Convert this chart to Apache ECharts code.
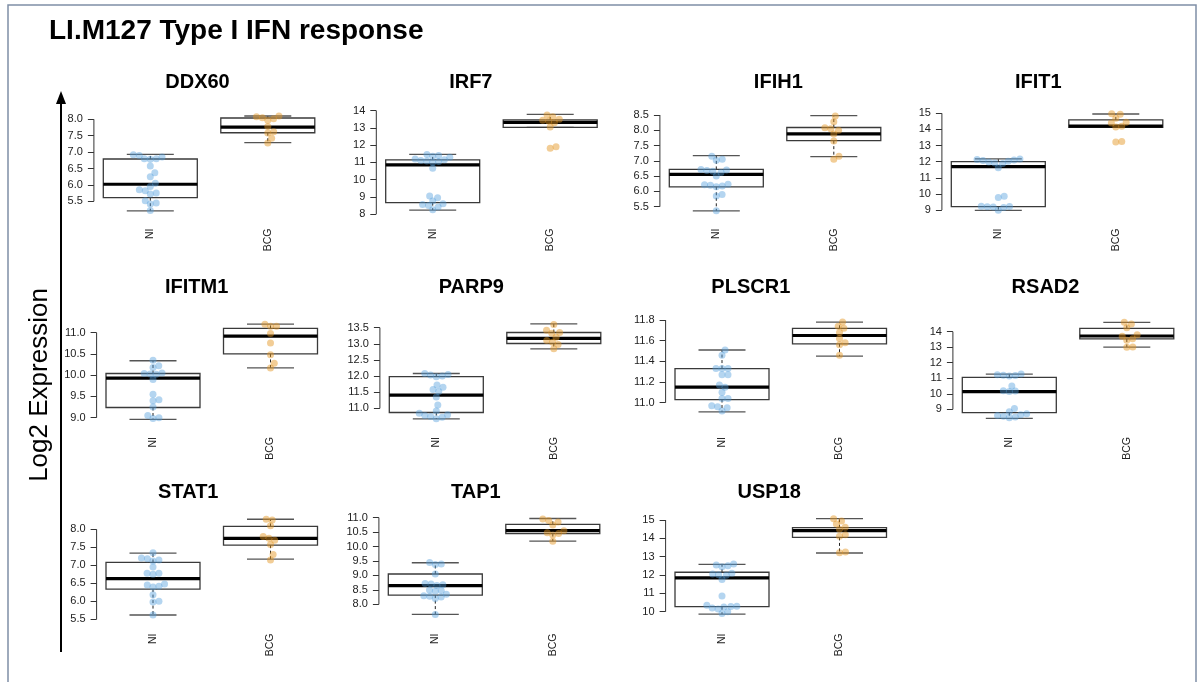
<!DOCTYPE html>
<html lang="en">
<head>
<meta charset="UTF-8">
<title>LI.M127 Type I IFN response</title>
<style>
  html, body { margin: 0; padding: 0; background: #fff; }
  #main { width: 1201px; height: 682px; }
</style>
</head>
<body>
<div id="main"></div>
<script src="https://cdn.jsdelivr.net/npm/echarts@6/dist/echarts.min.js"></script>
<script>
var genes = ['DDX60', 'IRF7', 'IFIH1', 'IFIT1', 'IFITM1', 'PARP9', 'PLSCR1', 'RSAD2', 'STAT1', 'TAP1', 'USP18'];
var groups = ['NI', 'BCG'];

// box stats [min, Q1, median, Q3, max]
var boxNI = [
  [5.21, 5.61, 6.02, 6.79, 6.93],
  [8.23, 8.66, 10.85, 11.14, 11.46],
  [5.36, 6.15, 6.56, 6.72, 7.17],
  [8.98, 9.21, 11.69, 12.00, 12.17],
  [8.96, 9.24, 9.93, 10.04, 10.34],
  [10.67, 10.87, 11.41, 11.98, 12.08],
  [10.91, 11.03, 11.15, 11.33, 11.51],
  [8.42, 8.79, 10.14, 11.06, 11.27],
  [5.62, 6.34, 6.63, 7.08, 7.34],
  [7.65, 8.32, 8.65, 9.05, 9.44],
  [9.87, 10.27, 11.84, 12.15, 12.58]
];
var boxBCG = [
  [7.29, 7.59, 7.76, 8.04, 8.10],
  [13.03, 13.03, 13.32, 13.46, 13.79],
  [7.14, 7.66, 7.88, 8.09, 8.48],
  [14.13, 14.13, 14.21, 14.59, 14.96],
  [10.17, 10.50, 10.92, 11.10, 11.20],
  [12.84, 13.01, 13.17, 13.35, 13.62],
  [11.45, 11.57, 11.65, 11.72, 11.78],
  [13.01, 13.53, 13.72, 14.21, 14.60],
  [7.17, 7.56, 7.75, 8.08, 8.28],
  [10.19, 10.45, 10.55, 10.77, 10.97],
  [13.20, 14.05, 14.42, 14.58, 15.07]
];

// individual samples
var ptsNI = [
  [6.92, 6.90, 6.85, 6.80, 6.80, 6.78, 6.58, 6.37, 6.25, 6.05, 5.95, 5.85, 5.82, 5.75, 5.72, 5.52, 5.45, 5.42, 5.22],
  [11.45, 11.40, 11.35, 11.30, 11.20, 11.15, 11.10, 11.08, 11.05, 11.00, 10.65, 9.05, 8.95, 8.75, 8.60, 8.55, 8.50, 8.40, 8.25],
  [7.15, 7.05, 7.02, 6.72, 6.70, 6.68, 6.66, 6.62, 6.50, 6.23, 6.22, 6.20, 6.18, 6.15, 5.90, 5.85, 5.37],
  [12.17, 12.13, 12.10, 12.07, 12.02, 11.98, 11.92, 11.88, 11.62, 9.85, 9.78, 9.24, 9.22, 9.20, 9.18, 9.15, 8.98],
  [10.35, 10.22, 10.18, 10.05, 10.04, 10.03, 10.02, 9.90, 9.55, 9.42, 9.40, 9.25, 9.05, 9.00, 8.98],
  [12.08, 12.05, 12.03, 12.00, 11.98, 11.72, 11.65, 11.58, 11.52, 11.35, 11.10, 10.92, 10.85, 10.80, 10.78, 10.75, 10.72, 10.68],
  [11.51, 11.46, 11.33, 11.33, 11.33, 11.27, 11.27, 11.17, 11.15, 11.10, 11.04, 11.04, 10.97, 10.96, 10.95, 10.92],
  [11.27, 11.22, 11.20, 11.18, 11.15, 10.50, 10.20, 10.18, 10.15, 9.05, 8.85, 8.72, 8.65, 8.60, 8.55, 8.50, 8.45],
  [7.35, 7.20, 7.18, 7.15, 7.12, 6.95, 6.78, 6.78, 6.75, 6.48, 6.45, 6.42, 6.40, 6.18, 6.00, 5.98, 5.62],
  [9.45, 9.40, 9.38, 9.05, 8.72, 8.70, 8.68, 8.65, 8.50, 8.48, 8.45, 8.35, 8.30, 8.28, 8.25, 8.20, 7.65],
  [12.60, 12.55, 12.50, 12.45, 12.10, 12.05, 12.02, 11.98, 11.75, 10.85, 10.35, 10.30, 10.28, 10.25, 10.20, 10.15, 10.00, 9.90]
];
var ptsBCG = [
  [8.10, 8.08, 8.05, 8.02, 7.97, 7.78, 7.62, 7.58, 7.42, 7.28],
  [13.75, 13.65, 13.50, 13.45, 13.40, 13.30, 13.05, 11.90, 11.82],
  [8.47, 8.28, 8.08, 8.05, 8.00, 7.88, 7.65, 7.15, 7.05],
  [14.97, 14.95, 14.70, 14.45, 14.40, 14.20, 14.15, 13.25, 13.22],
  [11.20, 11.15, 11.15, 10.98, 10.76, 10.48, 10.28, 10.17],
  [13.60, 13.42, 13.35, 13.33, 13.20, 13.10, 13.05, 12.98, 12.85],
  [11.78, 11.74, 11.72, 11.68, 11.62, 11.58, 11.56, 11.46],
  [14.60, 14.50, 14.25, 13.80, 13.70, 13.55, 13.45, 13.02, 13.00],
  [8.28, 8.26, 8.10, 7.80, 7.75, 7.70, 7.58, 7.30, 7.15],
  [10.95, 10.90, 10.85, 10.75, 10.55, 10.48, 10.45, 10.40, 10.18],
  [15.07, 14.95, 14.78, 14.60, 14.50, 14.20, 14.12, 13.25, 13.22]
];

// y tick labels and axis ranges
var yTicks = [
  ['5.5', '6.0', '6.5', '7.0', '7.5', '8.0'],
  ['8', '9', '10', '11', '12', '13', '14'],
  ['5.5', '6.0', '6.5', '7.0', '7.5', '8.0', '8.5'],
  ['9', '10', '11', '12', '13', '14', '15'],
  ['9.0', '9.5', '10.0', '10.5', '11.0'],
  ['11.0', '11.5', '12.0', '12.5', '13.0', '13.5'],
  ['11.0', '11.2', '11.4', '11.6', '11.8'],
  ['9', '10', '11', '12', '13', '14'],
  ['5.5', '6.0', '6.5', '7.0', '7.5', '8.0'],
  ['8.0', '8.5', '9.0', '9.5', '10.0', '10.5', '11.0'],
  ['10', '11', '12', '13', '14', '15']
];
var yMin = [5.098, 7.971, 5.244, 8.721, 8.875, 10.545, 10.803, 8.12, 5.495, 7.475, 9.573];
var yMax = [8.268, 14.01, 8.647, 15.176, 11.322, 13.769, 11.81, 14.816, 8.398, 11.092, 15.273];

// layout
var panelCenter = [150.3, 432.7, 716.3, 998.3, 153, 436.3, 722, 1009.3, 153, 435.3, 722];
var titleX = [197.5, 470.8, 778.3, 1038.3, 196.7, 471.3, 750.8, 1045.5, 188.3, 475.8, 769.2];
var rowTop = [110.5, 319, 515];
var rowBottom = [214.5, 423, 619.5];
var titleY = [82, 287, 492];
var U = 117.5;
var xMin = -0.48, xMax = 1.48;
var FONT = '"Liberation Sans", Arial, Helvetica, sans-serif';
var colNI = 'rgba(85, 160, 220, 0.55)';
var colBCG = 'rgba(228, 150, 35, 0.6)';

// simple deterministic beeswarm: returns x offsets in px
function swarm(vals, pxPerUnit, d) {
  var order = vals.map(function (v, k) { return k; }).sort(function (a, b) { return vals[a] - vals[b]; });
  var placed = [];
  var out = new Array(vals.length);
  order.forEach(function (k) {
    var y = vals[k] * pxPerUnit;
    var iv = [];
    placed.forEach(function (p) {
      var dy = Math.abs(p.y - y);
      if (dy < d) {
        var w = Math.sqrt(d * d - dy * dy);
        iv.push([p.x - w, p.x + w]);
      }
    });
    var cands = [0];
    iv.forEach(function (r) { cands.push(r[0], r[1]); });
    cands.sort(function (a, b) { return Math.abs(a) - Math.abs(b) || b - a; });
    var x = 0;
    for (var c = 0; c < cands.length; c++) {
      var ok = iv.every(function (r) { return cands[c] <= r[0] + 1e-6 || cands[c] >= r[1] - 1e-6; });
      if (ok) { x = cands[c]; break; }
    }
    placed.push({ x: x, y: y });
    out[k] = x;
  });
  return out;
}

function renderBox(params, api) {
  var x = api.value(0);
  var mn = api.value(1), q1 = api.value(2), md = api.value(3), q3 = api.value(4), mx = api.value(5);
  var tl = api.coord([x - 0.4, q3]);
  var br = api.coord([x + 0.4, q1]);
  var c = api.coord([x, md]);
  var yMx = api.coord([x, mx])[1], yMn = api.coord([x, mn])[1];
  var capL = api.coord([x - 0.2, mx])[0], capR = api.coord([x + 0.2, mx])[0];
  var dash = { stroke: '#222', lineWidth: 1, lineDash: [3, 2.5] };
  var cap = { stroke: '#555', lineWidth: 1.3 };
  return {
    type: 'group',
    children: [
      { type: 'line', shape: { x1: c[0], y1: tl[1], x2: c[0], y2: yMx }, style: dash },
      { type: 'line', shape: { x1: c[0], y1: br[1], x2: c[0], y2: yMn }, style: dash },
      { type: 'line', shape: { x1: capL, y1: yMx, x2: capR, y2: yMx }, style: cap },
      { type: 'line', shape: { x1: capL, y1: yMn, x2: capR, y2: yMn }, style: cap },
      { type: 'rect', shape: { x: tl[0], y: tl[1], width: br[0] - tl[0], height: br[1] - tl[1] },
        style: { fill: 'none', stroke: '#3a3a3a', lineWidth: 1.3 } },
      { type: 'line', shape: { x1: tl[0], y1: c[1], x2: br[0], y2: c[1] }, style: { stroke: '#000', lineWidth: 3.2 } }
    ]
  };
}

function renderAxisLine(params, api) {
  var a = api.coord([api.value(0), api.value(1)]);
  var b = api.coord([api.value(0), api.value(2)]);
  return { type: 'line', shape: { x1: a[0], y1: a[1], x2: b[0], y2: b[1] }, style: { stroke: '#333', lineWidth: 1 } };
}

var grids = [], xAxes = [], yAxes = [], series = [];
var graphics = [
  { type: 'polyline', shape: { points: [[8, 700], [8, 5], [1196, 5], [1196, 700]] },
    style: { stroke: '#7f8fa6', lineWidth: 1.5, fill: 'none' } },
  { type: 'text', x: 49, y: 31, style: { text: 'LI.M127 Type I IFN response', font: 'bold 28px ' + FONT,
    fill: '#000', textAlign: 'left', textVerticalAlign: 'middle' } },
  { type: 'text', x: 40, y: 385, rotation: Math.PI / 2, style: { text: 'Log2 Expression', font: '26px ' + FONT,
    fill: '#000', textAlign: 'center', textVerticalAlign: 'middle' } },
  { type: 'line', shape: { x1: 61, y1: 652, x2: 61, y2: 100 }, style: { stroke: '#000', lineWidth: 2 } },
  { type: 'polygon', shape: { points: [[61, 91], [56, 104], [66, 104]] }, style: { fill: '#000' } }
];

genes.forEach(function (g, i) {
  var row = Math.floor(i / 4);
  var top = rowTop[row], h = rowBottom[row] - top;
  var c = panelCenter[i];
  grids.push({ left: c + xMin * U, top: top, width: (xMax - xMin) * U, height: h });
  xAxes.push({
    gridIndex: i, type: 'value', min: xMin, max: xMax,
    axisLine: { show: false, onZero: false }, axisTick: { show: false }, splitLine: { show: false },
    axisLabel: {
      customValues: [0, 1], rotate: 90, margin: 14, fontSize: 10.5, color: '#222', fontFamily: FONT,
      formatter: function (v) { return groups[Math.round(v)]; }
    }
  });
  var ticks = yTicks[i].map(Number);
  var dec = (yTicks[i][0].split('.')[1] || '').length;
  yAxes.push({
    gridIndex: i, type: 'value', min: yMin[i], max: yMax[i],
    axisLine: { show: false, onZero: false }, splitLine: { show: false },
    axisTick: { show: true, customValues: ticks, length: 6, lineStyle: { color: '#333', width: 1 } },
    axisLabel: {
      customValues: ticks, margin: 11, fontSize: 11, color: '#222', fontFamily: FONT,
      formatter: function (v) { return Number(v).toFixed(dec); }
    }
  });
  series.push({
    type: 'custom', xAxisIndex: i, yAxisIndex: i, silent: true, z: 2,
    data: [[xMin, ticks[0], ticks[ticks.length - 1]]],
    encode: { x: 0, y: [1, 2] },
    renderItem: renderAxisLine
  });
  series.push({
    type: 'custom', xAxisIndex: i, yAxisIndex: i, silent: true, z: 3,
    data: [[0].concat(boxNI[i]), [1].concat(boxBCG[i])],
    encode: { x: 0, y: [1, 2, 3, 4, 5] },
    renderItem: renderBox
  });
  var ppu = h / (yMax[i] - yMin[i]);
  [ptsNI[i], ptsBCG[i]].forEach(function (vals, gi) {
    var offs = swarm(vals, ppu, 6);
    series.push({
      type: 'scatter', xAxisIndex: i, yAxisIndex: i, z: 4, silent: true,
      symbol: 'circle', symbolSize: 7,
      itemStyle: { color: gi === 0 ? colNI : colBCG },
      data: vals.map(function (v, k) { return [gi + offs[k] / U, v]; })
    });
  });
  graphics.push({ type: 'text', x: titleX[i], y: titleY[row], style: { text: g, font: 'bold 20px ' + FONT,
    fill: '#000', textAlign: 'center', textVerticalAlign: 'middle' } });
});

var chart = echarts.init(document.getElementById('main'));
chart.setOption({
  backgroundColor: '#fff',
  animation: false,
  grid: grids,
  xAxis: xAxes,
  yAxis: yAxes,
  series: series,
  graphic: graphics
});
</script>
</body>
</html>
